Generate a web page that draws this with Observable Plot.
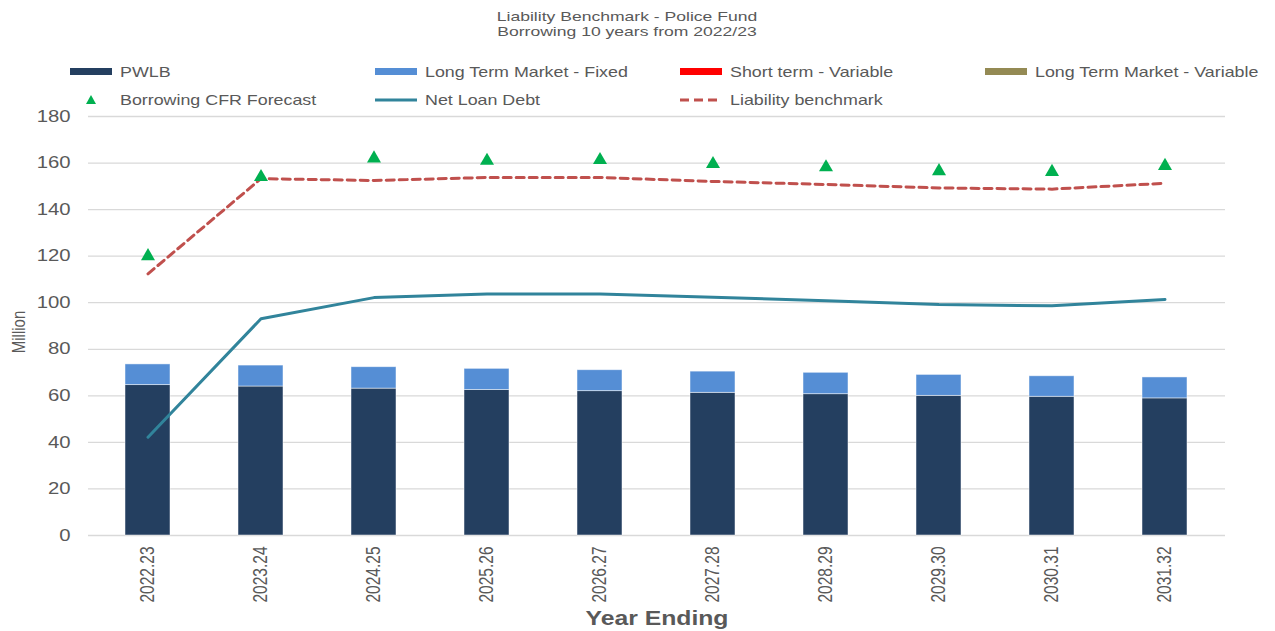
<!DOCTYPE html>
<html>
<head>
<meta charset="utf-8">
<script src="https://cdn.jsdelivr.net/npm/d3@7"></script>
<script src="https://cdn.jsdelivr.net/npm/@observablehq/plot@0.6"></script>
<style>
  body { margin: 0; background: #fff; font-family: "Liberation Sans", Arial, sans-serif; }
  #wrap { width: 1275px; }
  #header { position: relative; width: 1275px; height: 105px; color: #595959; }
  #title { position: absolute; left: 427px; width: 400px; top: 9px; text-align: center; font-size: 13.5px; line-height: 15px; transform: scaleX(1.3); transform-origin: 200px 0; }
  .item { position: absolute; display: flex; align-items: center; font-size: 14.5px; white-space: nowrap; height: 20px; }
  .sw { width: 42px; margin-right: 8px; display: flex; align-items: center; justify-content: center; }
  .lbl { display: inline-block; transform: scaleX(1.23); transform-origin: 0 50%; }
</style>
</head>
<body>
<div id="wrap">
  <div id="header">
    <div id="title">Liability Benchmark - Police Fund<br>Borrowing 10 years from 2022/23</div>
    <div id="legend"></div>
  </div>
  <div id="chart"></div>
</div>
<script>
const years = ["2022.23","2023.24","2024.25","2025.26","2026.27","2027.28","2028.29","2029.30","2030.31","2031.32"];
const pwlb = [64.6, 64.0, 63.1, 62.5, 62.0, 61.3, 60.7, 60.0, 59.6, 58.9];
const ltFixed = [8.9, 9.0, 9.2, 9.1, 9.0, 9.1, 9.2, 9.0, 8.8, 9.0];
const shortTermVariable = [0, 0, 0, 0, 0, 0, 0, 0, 0, 0];
const ltVariable = [0, 0, 0, 0, 0, 0, 0, 0, 0, 0];
const cfrForecast = [120.0, 154.0, 162.0, 161.0, 161.3, 159.6, 158.2, 156.5, 156.2, 158.8];
const netLoanDebt = [42.2, 93.1, 102.2, 103.8, 103.8, 102.4, 100.8, 99.2, 98.7, 101.4];
const liabilityBenchmark = [112.4, 153.3, 152.5, 153.8, 153.8, 152.1, 150.8, 149.3, 148.8, 151.3];
const yTicks = [0, 20, 40, 60, 80, 100, 120, 140, 160, 180];

const seriesNames = ["PWLB", "Long Term Market - Fixed", "Short term - Variable", "Long Term Market - Variable"];
const seriesColors = ["#243F60", "#558ED5", "#FF0000", "#948A54"];
const seriesValues = [pwlb, ltFixed, shortTermVariable, ltVariable];

const barData = [];
seriesNames.forEach((s, si) => years.forEach((y, i) => barData.push({year: y, series: s, value: seriesValues[si][i]})));
const rows = years.map((y, i) => ({year: y, cfr: cfrForecast[i], nld: netLoanDebt[i], lb: liabilityBenchmark[i]}));

// legend
const legendItems = [
  {label: "PWLB", type: "bar", color: seriesColors[0], x: 70, y: 72},
  {label: "Long Term Market - Fixed", type: "bar", color: seriesColors[1], x: 375, y: 72},
  {label: "Short term - Variable", type: "bar", color: seriesColors[2], x: 680, y: 72},
  {label: "Long Term Market - Variable", type: "bar", color: seriesColors[3], x: 985, y: 72},
  {label: "Borrowing CFR Forecast", type: "tri", color: "#00B050", x: 70, y: 100},
  {label: "Net Loan Debt", type: "line", color: "#31849B", x: 375, y: 100},
  {label: "Liability benchmark", type: "dash", color: "#C0504D", x: 680, y: 100}
];
const leg = document.getElementById("legend");
legendItems.forEach(it => {
  const d = document.createElement("div");
  d.className = "item";
  d.style.left = it.x + "px";
  d.style.top = (it.y - 10) + "px";
  let sw;
  if (it.type === "bar") sw = `<svg width="42" height="8"><rect x="0" y="0" width="42" height="7" fill="${it.color}"/></svg>`;
  else if (it.type === "tri") sw = `<svg width="42" height="12"><path d="M21,1 L26,10 L16,10 Z" fill="${it.color}"/></svg>`;
  else if (it.type === "line") sw = `<svg width="42" height="8"><line x1="0" x2="42" y1="4" y2="4" stroke="${it.color}" stroke-width="3"/></svg>`;
  else sw = `<svg width="42" height="8"><line x1="0" x2="40" y1="4" y2="4" stroke="${it.color}" stroke-width="3" stroke-dasharray="9,5"/></svg>`;
  d.innerHTML = `<span class="sw">${sw}</span><span class="lbl">${it.label}</span>`;
  leg.appendChild(d);
});

const chart = Plot.plot({
  width: 1275,
  height: 526,
  marginLeft: 88,
  marginRight: 50,
  marginTop: 11,
  marginBottom: 96,
  style: {fontFamily: "Liberation Sans, Arial, sans-serif", color: "#595959", background: "#fff", overflow: "visible"},
  x: {type: "band", domain: years, paddingInner: 0.6, paddingOuter: 0.3, label: null},
  y: {domain: [0, 180], label: null},
  color: {domain: seriesNames, range: seriesColors},
  marks: [
    Plot.gridY({ticks: yTicks, stroke: "#d9d9d9", strokeOpacity: 1, strokeWidth: 1.3}),
    Plot.barY(barData, {x: "year", y: "value", fill: "series", order: seriesNames, stroke: "#ffffff", strokeWidth: 0.8, strokeOpacity: 0.6}),
    Plot.line(rows, {x: "year", y: "nld", stroke: "#31849B", strokeWidth: 3}),
    Plot.line(rows, {x: "year", y: "lb", stroke: "#C0504D", strokeWidth: 3, strokeDasharray: "8,5"}),
    Plot.dot(rows, {x: "year", y: "cfr", symbol: "triangle", fill: "#00B050", r: 5.2}),
    Plot.axisY({ticks: yTicks, tickSize: 0, tickPadding: 18, fontSize: 16, label: null}),
    Plot.axisX({tickRotate: -90, tickSize: 0, tickPadding: 11, fontSize: 15.5, label: null}),
    Plot.text(["Million"], {frameAnchor: "left", textAnchor: "middle", dx: -70, dy: 6, rotate: -90, fontSize: 15, fill: "#595959"}),
    Plot.text(["Year Ending"], {frameAnchor: "bottom", dy: 89, fontSize: 19.5, fontWeight: "bold", fill: "#595959"})
  ]
});
// widen glyphs horizontally (the reference's text is stretched horizontally)
chart.querySelectorAll("text").forEach(t => {
  const tr = t.getAttribute("transform");
  if (!tr) return;
  if (/rotate\(-90\)/.test(tr)) t.setAttribute("transform", tr + " scale(1,1.27)");
  else t.setAttribute("transform", tr + " scale(1.27,1)");
});
document.getElementById("chart").appendChild(chart);
</script>
</body>
</html>
